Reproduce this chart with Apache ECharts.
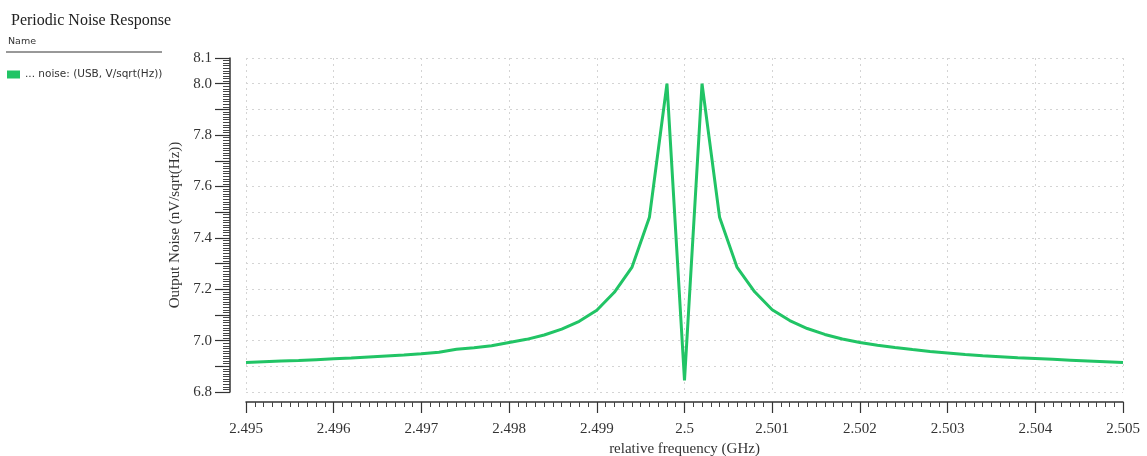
<!DOCTYPE html>
<html>
<head>
<meta charset="utf-8">
<script src="https://cdn.jsdelivr.net/npm/echarts@6/dist/echarts.min.js"></script>
<style>html,body{margin:0;padding:0;background:#fff}#c{width:1147px;height:456px}</style>
</head>
<body>
<div id="c"></div>
<script>
const freqs = [2.495,2.4952,2.4954,2.4956,2.4958,2.496,2.4962,2.4964,2.4966,2.4968,
  2.497,2.4972,2.4974,2.4976,2.4978,2.498,2.4982,2.4984,2.4986,2.4988,
  2.499,2.4992,2.4994,2.4996,2.4998,2.5,2.5002,2.5004,2.5006,2.5008,
  2.501,2.5012,2.5014,2.5016,2.5018,2.502,2.5022,2.5024,2.5026,2.5028,
  2.503,2.5032,2.5034,2.5036,2.5038,2.504,2.5042,2.5044,2.5046,2.5048,2.505];
const noise = [6.915,6.918,6.921,6.923,6.926,6.929,6.932,6.936,6.940,6.944,
  6.949,6.955,6.966,6.972,6.980,6.993,7.005,7.022,7.045,7.075,
  7.118,7.188,7.285,7.48,8.00,6.845,8.00,7.48,7.285,7.19,
  7.12,7.078,7.047,7.024,7.006,6.993,6.982,6.973,6.965,6.958,
  6.952,6.946,6.941,6.937,6.933,6.930,6.927,6.924,6.921,6.918,6.915];
const seriesName = '... noise: (USB, V/sqrt(Hz))';
const titleText = 'Periodic Noise Response';
const xName = 'relative frequency (GHz)';
const yName = 'Output Noise (nV/sqrt(Hz))';

const chart = echarts.init(document.getElementById('c'), null, {renderer:'canvas'});
const serif = '"Liberation Serif", "DejaVu Serif", serif';
const sans = '"DejaVu Sans", "Liberation Sans", sans-serif';
chart.setOption({
  animation:false,
  backgroundColor:'#fff',
  title:{text:titleText,left:6,top:8,textStyle:{fontFamily:serif,fontSize:16,fontWeight:'normal',color:'#222'}},
  graphic:[
    {type:'text',left:8,top:37,style:{text:'Name',font:'9.5px '+sans,fill:'#333'}},
    {type:'line',shape:{x1:6,y1:52,x2:162,y2:52},style:{stroke:'#333',lineWidth:1}}
  ],
  legend:{left:2,top:64,orient:'vertical',itemWidth:13,itemHeight:8,icon:'rect',itemGap:6,
    textStyle:{fontFamily:sans,fontSize:10.5,color:'#333'},data:[seriesName]},
  grid:{left:246,right:24,top:58,bottom:64,outerBoundsMode:'none',containLabel:false},
  xAxis:{type:'value',min:2.495,max:2.505,interval:0.001,offset:10,
    name:xName,nameLocation:'middle',nameGap:40,
    nameTextStyle:{fontFamily:serif,fontSize:15,color:'#333'},
    axisLine:{show:true,lineStyle:{color:'#333',width:1.5}},
    axisTick:{show:true,inside:false,length:11,lineStyle:{color:'#333',width:1.2}},
    minorTick:{show:true,splitNumber:10,length:5,lineStyle:{color:'#444',width:1}},
    axisLabel:{fontFamily:serif,fontSize:15,color:'#333',margin:20},
    splitLine:{show:true,lineStyle:{color:'#d4d4d4',type:[2,4],width:1}}},
  yAxis:{type:'value',min:6.8,max:8.1,interval:0.1,offset:16,
    name:yName,nameLocation:'middle',nameGap:39,nameRotate:90,
    nameTextStyle:{fontFamily:serif,fontSize:15,color:'#333'},
    axisLine:{show:true,lineStyle:{color:'#333',width:1.5}},
    axisTick:{show:true,inside:false,length:15,lineStyle:{color:'#333',width:1.2}},
    minorTick:{show:true,splitNumber:10,length:7,lineStyle:{color:'#444',width:1}},
    axisLabel:{fontFamily:serif,fontSize:15,color:'#333',margin:18,
      formatter:function(v){const k=Math.round(v*10);return (k%2===0||k===81)?(k/10).toFixed(1):'';}},
    splitLine:{show:true,lineStyle:{color:'#d4d4d4',type:[2,4],width:1}}},
  series:[{name:seriesName,type:'line',data:freqs.map((f,i)=>[f,noise[i]]),
    showSymbol:false,symbol:'none',color:'#21c465',lineStyle:{color:'#21c465',width:3}}]
});
</script>
</body>
</html>
